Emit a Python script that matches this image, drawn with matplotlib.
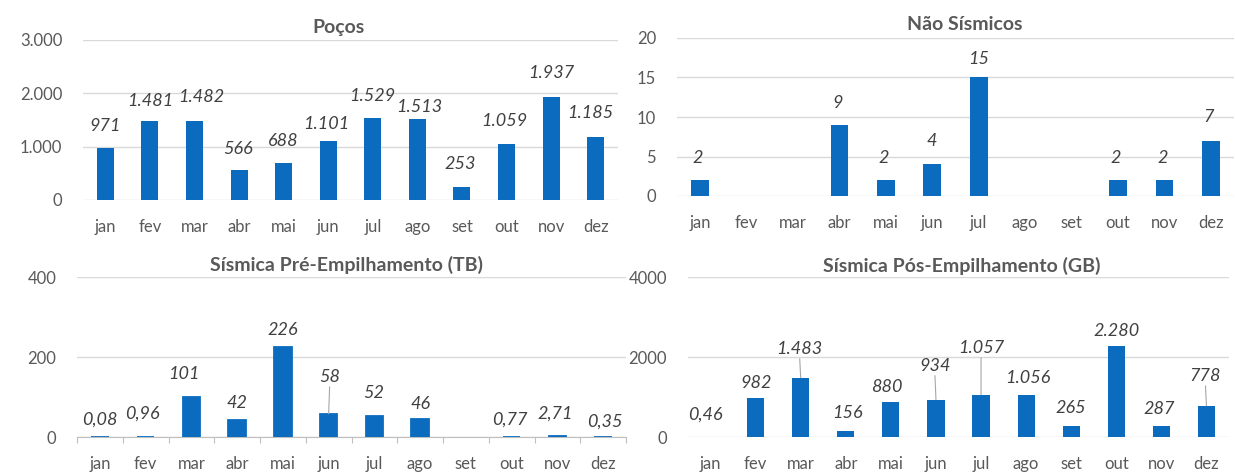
import matplotlib
matplotlib.use("Agg")
import matplotlib.pyplot as plt
import numpy as np

plt.rcParams['font.family'] = ['Lato', 'DejaVu Sans']

months = ['jan', 'fev', 'mar', 'abr', 'mai', 'jun', 'jul', 'ago', 'set', 'out', 'nov', 'dez']

pocos = [971, 1481, 1482, 566, 688, 1101, 1529, 1513, 253, 1059, 1937, 1185]
nao_sismicos = [2, np.nan, np.nan, 9, 2, 4, 15, np.nan, np.nan, 2, 2, 7]
sismica_pre_tb = [0.08, 0.96, 101, 42, 226, 58, 52, 46, np.nan, 0.77, 2.71, 0.35]
sismica_pos_gb = [0.46, 982, 1483, 156, 880, 934, 1057, 1056, 265, 2280, 287, 778]

titles = ['Poços', 'Não Sísmicos', 'Sísmica Pré-Empilhamento (TB)', 'Sísmica Pós-Empilhamento (GB)']

yticks_pocos = [0, 1000, 2000, 3000]
yticklabels_pocos = ['0', '1.000', '2.000', '3.000']
yticks_nao = [0, 5, 10, 15, 20]
yticklabels_nao = ['0', '5', '10', '15', '20']
yticks_pre = [0, 200, 400]
yticklabels_pre = ['0', '200', '400']
yticks_pos = [0, 2000, 4000]
yticklabels_pos = ['0', '2000', '4000']

# ---- styling / layout (pixels) ----
W, H = 1235, 474
BLUE = '#0B6BBF'
TXT = '#595959'
LBL = '#404040'
GRID = '#D9D9D9'

# label offsets in pixels (dx, dy above bar top) and leader flags
off_pocos = [(0, 22), (0, 20), (7, 24), (-1, 21), (0, 22), (-2, 17), (-1, 22), (2, 12), (-2, 23), (-2, 23), (0, 24), (-5, 24)]
off_nao = [(-2, 22)] * 12
off_nao[6] = (0, 18)
off_nao[5] = (-1, 23)
off_nao[11] = (-2, 24)
off_pre = [(0, 17), (-3, 23), (-7, 23), (0, 17), (0, 17), (1, 37), (-1, 23), (0, 15), (0, 0), (-2, 17), (-2, 22), (2, 15)]
lead_pre = [False] * 12
lead_pre[5] = True
off_pos = [(-5, 22), (0, 15), (-1, 29), (2, 18), (-4, 15), (-1, 34), (0, 47), (2, 17), (0, 18), (0, 15), (-2, 17), (-1, 30)]
lead_pos = [False] * 12
for k in (2, 5, 6, 11):
    lead_pos[k] = True


def fmt(v):
    if v < 10 and v != int(v):
        return f"{v:.2f}".replace('.', ',')
    return f"{int(round(v)):,}".replace(',', '.')


fig = plt.figure(figsize=(W / 100, H / 100), dpi=100)


def make_ax(l, r, y0, yt):
    return fig.add_axes([l / W, (H - y0) / H, (r - l) / W, (y0 - yt) / H])


def draw(ax, vals, yticks, yticklabels, offs, leads=None, edge=False, xticks_marks=False):
    x = np.arange(len(months))
    v = np.array(vals, dtype=float)
    ax.bar(x, v, width=0.38, color=BLUE, zorder=3,
           edgecolor=BLUE if edge else 'none', linewidth=1.3 if edge else 0)
    ax.set_xlim(-0.5, len(months) - 0.5)
    ax.set_ylim(yticks[0], yticks[-1])
    ax.set_yticks(yticks)
    ax.set_yticklabels(yticklabels)
    ax.set_xticks(x)
    ax.set_xticklabels(months)
    for s in ax.spines.values():
        s.set_visible(False)
    ax.grid(axis='y', color=GRID, linewidth=1.0, zorder=0)
    ax.set_axisbelow(True)
    ax.tick_params(axis='y', length=0, pad=15, labelsize=12, labelcolor=TXT)
    ax.tick_params(axis='x', length=0, pad=14, labelsize=12, labelcolor=TXT)
    if xticks_marks:
        ax.spines['bottom'].set_visible(True)
        ax.spines['bottom'].set_color('#BFBFBF')
        ax.set_xticks(np.arange(-0.5, len(months), 1.0), minor=True)
        ax.tick_params(axis='x', which='minor', length=4, color='#BFBFBF', width=0.8)
    for i, val in enumerate(v):
        if np.isnan(val):
            continue
        dx, dy = offs[i]
        ax.annotate(fmt(val), xy=(i, val), xytext=(dx, dy), textcoords='offset pixels',
                    ha='center', va='center', fontsize=13, style='italic', color=LBL, zorder=5)
        if leads is not None and leads[i]:
            ax.annotate('', xy=(i, val), xytext=(dx, dy - 10), textcoords='offset pixels',
                        arrowprops=dict(arrowstyle='-', color='#A6A6A6', lw=0.8,
                                        shrinkA=0, shrinkB=0), zorder=4)


ax1 = make_ax(83, 618, 200, 40)
draw(ax1, pocos, yticks_pocos, yticklabels_pocos, off_pocos)
ax2 = make_ax(677, 1234, 196, 38)
draw(ax2, nao_sismicos, yticks_nao, yticklabels_nao, off_nao)
ax3 = make_ax(77, 626, 437, 277)
draw(ax3, sismica_pre_tb, yticks_pre, yticklabels_pre, off_pre, lead_pre, edge=True, xticks_marks=True)
ax4 = make_ax(688, 1229, 437, 277)
draw(ax4, sismica_pos_gb, yticks_pos, yticklabels_pos, off_pos, lead_pos)

title_pos = [(338, 27), (965, 25), (347, 265), (962, 266)]
for t, (tx, ty) in zip(titles, title_pos):
    fig.text(tx / W, 1 - ty / H, t, ha='center', va='center', fontsize=14,
             fontweight='bold', color=TXT)

fig.savefig('out.png', dpi=100, facecolor='white')
